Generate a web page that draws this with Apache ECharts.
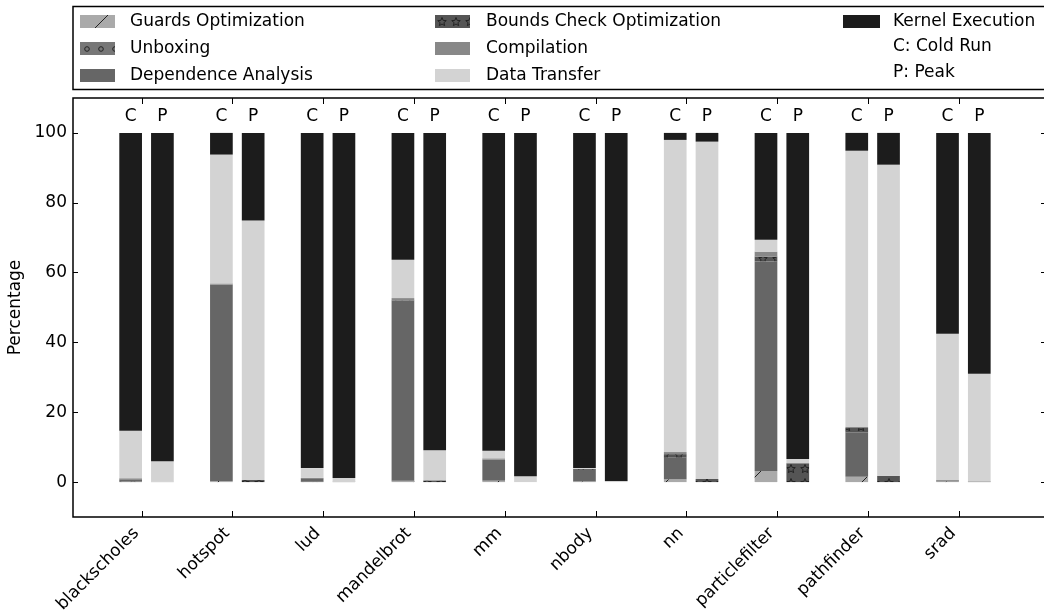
<!DOCTYPE html>
<html>
<head>
<meta charset="utf-8">
<script src="https://cdn.jsdelivr.net/npm/echarts@6/dist/echarts.min.js"></script>
<style>
  html, body { margin: 0; padding: 0; background: #fff; }
  #chart { width: 1044px; height: 615px; }
</style>
</head>
<body>
<div id="chart"></div>
<script>
// Benchmarks and run types
const benchmarks = ['blackscholes', 'hotspot', 'lud', 'mandelbrot', 'mm', 'nbody', 'nn', 'particlefilter', 'pathfinder', 'srad'];
const runLabels = ['C', 'P'];
const components = ['Guards Optimization', 'Unboxing', 'Dependence Analysis', 'Bounds Check Optimization', 'Compilation', 'Data Transfer', 'Kernel Execution'];

// Cold run breakdown (percent of total time)
const coldGuards   = [0, 0.3, 0, 0.4, 0.4, 0.2, 0.8, 3.2, 1.5, 0.2];
const coldUnboxing = [0.2, 0, 0.1, 0, 0, 0, 0, 0, 0, 0];
const coldDepend   = [0.6, 56.3, 1.0, 51.6, 6.0, 3.3, 6.2, 60.0, 12.7, 0.3];
const coldBounds   = [0, 0, 0, 0.1, 0, 0.3, 1.0, 1.4, 1.3, 0];
const coldCompile  = [0.3, 0.3, 0.1, 0.6, 0.4, 0, 0.6, 1.4, 0.3, 0.1];
const coldTransfer = [13.6, 36.9, 2.8, 11.0, 2.2, 0.2, 89.4, 3.4, 79.1, 41.9];
const coldKernel   = [85.3, 6.2, 96.0, 36.3, 91.0, 96.0, 2.0, 30.6, 5.1, 57.5];

// Peak run breakdown (percent of total time)
const peakGuards   = [0, 0, 0, 0, 0, 0, 0, 0, 0, 0];
const peakUnboxing = [0, 0, 0, 0, 0, 0, 0, 0, 0, 0];
const peakDepend   = [0, 0, 0.1, 0, 0, 0, 0, 0, 0, 0.2];
const peakBounds   = [0, 0.6, 0, 0.5, 0, 0, 0.9, 5.4, 1.8, 0];
const peakCompile  = [0.1, 0, 0, 0, 0, 0, 0, 0, 0, 0];
const peakTransfer = [5.9, 74.3, 1.1, 8.6, 1.7, 0.3, 96.6, 1.2, 89.1, 30.8];
const peakKernel   = [94.0, 25.1, 98.8, 90.9, 98.3, 99.7, 2.5, 93.4, 9.1, 69.0];

const yTicks = [0, 20, 40, 60, 80, 100];

const coldParts = [coldGuards, coldUnboxing, coldDepend, coldBounds, coldCompile, coldTransfer, coldKernel];
const peakParts = [peakGuards, peakUnboxing, peakDepend, peakBounds, peakCompile, peakTransfer, peakKernel];

// Bar geometry (in category units)
const BAR_W = 0.25;
const RUN_OFFSET = [-0.125, 0.225];
const FONT = 'DejaVu Sans';

// Fill patterns drawn on small tiles
function tile(size, bg, draw) {
  const c = document.createElement('canvas');
  c.width = size; c.height = size;
  const g = c.getContext('2d');
  g.fillStyle = bg;
  g.fillRect(0, 0, size, size);
  g.strokeStyle = '#222';
  g.lineWidth = 1;
  if (draw) draw(g, size);
  return { image: c, repeat: 'repeat' };
}
const hatchFill = tile(28, '#aaaaaa', (g, s) => {
  g.beginPath(); g.moveTo(0, s); g.lineTo(s, 0); g.stroke();
});
const circleFill = tile(14, '#777777', (g, s) => {
  g.beginPath(); g.arc(s / 2, s / 2, 2.3, 0, Math.PI * 2); g.stroke();
});
const starFill = tile(14, '#555555', (g, s) => {
  g.beginPath();
  for (let k = 0; k < 10; k++) {
    const r = k % 2 === 0 ? 4.5 : 2;
    const ang = -Math.PI / 2 + k * Math.PI / 5;
    const px = s / 2 + r * Math.cos(ang), py = s / 2 + r * Math.sin(ang);
    if (k === 0) g.moveTo(px, py); else g.lineTo(px, py);
  }
  g.closePath(); g.stroke();
});
const fills = [hatchFill, circleFill, '#666666', starFill, '#888888', '#d3d3d3', '#1c1c1c'];

// Build [x, low, high] segments per component from the arrays
function segments(k) {
  const out = [];
  benchmarks.forEach((b, i) => {
    [coldParts, peakParts].forEach((parts, r) => {
      let low = 0;
      for (let j = 0; j < k; j++) low += parts[j][i];
      out.push([i + RUN_OFFSET[r], low, low + parts[k][i]]);
    });
  });
  return out;
}

function renderBar(params, api) {
  const x = api.value(0), lo = api.value(1), hi = api.value(2);
  if (!(hi > lo)) return;
  const a = api.coord([x - BAR_W / 2, lo]);
  const b = api.coord([x + BAR_W / 2, hi]);
  return {
    type: 'rect',
    shape: { x: a[0], y: b[1], width: b[0] - a[0], height: a[1] - b[1] },
    style: { fill: api.visual('color') }
  };
}

const barSeries = components.map((name, k) => ({
  name: name,
  type: 'custom',
  renderItem: renderBar,
  encode: { x: 0, y: [1, 2] },
  itemStyle: { color: fills[k] },
  data: segments(k),
  silent: true
}));

// Run letters above each bar
const LABEL_Y = 104.6;
const runLabelData = [];
benchmarks.forEach((b, i) => runLabels.forEach((t, r) => runLabelData.push([i + RUN_OFFSET[r], LABEL_Y])));
const labelSeries = {
  type: 'custom',
  silent: true,
  data: runLabelData,
  encode: { x: 0, y: 1 },
  renderItem: (params, api) => {
    const p = api.coord([api.value(0), api.value(1)]);
    return {
      type: 'text', x: p[0], y: p[1],
      style: { text: runLabels[params.dataIndex % 2], fontSize: 17, fontFamily: FONT, fill: '#000', align: 'center', verticalAlign: 'middle' }
    };
  }
};

const catTicks = benchmarks.map((b, i) => i);
const tickStyle = { color: '#000', width: 1 };

const legendText = { fontSize: 17, fontFamily: FONT, color: '#000', lineHeight: 16 };
function legendCol(names, left, width, textPad) {
  return {
    data: names.map(n => ({ name: n, icon: 'rect' })),
    orient: 'vertical', left: left, top: 13, padding: 0,
    itemWidth: width, itemHeight: 13, itemGap: 10,
    selectedMode: false,
    textStyle: Object.assign({}, legendText, { padding: [0, 0, 0, textPad] })
  };
}

const chart = echarts.init(document.getElementById('chart'), null, { renderer: 'canvas' });
chart.setOption({
  animation: false,
  backgroundColor: '#fff',
  textStyle: { fontFamily: FONT },
  grid: {
    left: 73, right: -2, top: 98, bottom: 98,
    outerBoundsMode: 'none', containLabel: false,
    show: true, borderColor: '#000', borderWidth: 1.5, backgroundColor: 'transparent'
  },
  legend: [
    legendCol(components.slice(0, 3), 80, 35, 10),
    legendCol(components.slice(3, 6), 435, 35, 11),
    legendCol(components.slice(6), 843, 37, 8)
  ],
  graphic: [
    { type: 'rect', shape: { x: 73, y: 6.5, width: 990, height: 83 }, style: { fill: 'none', stroke: '#000', lineWidth: 1.5 } },
    { type: 'text', x: 893, y: 47, style: { text: 'C: Cold Run', fontSize: 17, fontFamily: FONT, fill: '#000', verticalAlign: 'middle' } },
    { type: 'text', x: 893, y: 73, style: { text: 'P: Peak', fontSize: 17, fontFamily: FONT, fill: '#000', verticalAlign: 'middle' } }
  ],
  xAxis: [
    {
      type: 'value', position: 'bottom', min: -0.76, max: 9.96,
      axisLine: { show: false, onZero: false }, splitLine: { show: false },
      axisTick: { show: true, inside: true, length: 6, customValues: catTicks, lineStyle: tickStyle },
      axisLabel: {
        customValues: catTicks, formatter: v => benchmarks[Math.round(v)],
        rotate: 45, margin: 8, padding: [0, 8, 0, 0],
        fontSize: 17, fontFamily: FONT, color: '#000'
      }
    },
    {
      type: 'value', position: 'top', min: -0.76, max: 9.96,
      axisLine: { show: false, onZero: false }, splitLine: { show: false },
      axisTick: { show: true, inside: true, length: 6, customValues: catTicks, lineStyle: tickStyle },
      axisLabel: { show: false }
    }
  ],
  yAxis: [
    {
      type: 'value', position: 'left', min: -10, max: 110,
      name: 'Percentage', nameLocation: 'middle', nameGap: 43,
      nameTextStyle: { fontSize: 17, fontFamily: FONT, color: '#000' },
      axisLine: { show: false, onZero: false }, splitLine: { show: false },
      axisTick: { show: true, inside: true, length: 5, customValues: yTicks, lineStyle: tickStyle },
      axisLabel: { customValues: yTicks, margin: 6, fontSize: 17, fontFamily: FONT, color: '#000' }
    },
    {
      type: 'value', position: 'right', min: -10, max: 110,
      axisLine: { show: false, onZero: false }, splitLine: { show: false },
      axisTick: { show: true, inside: true, length: 5, customValues: yTicks, lineStyle: tickStyle },
      axisLabel: { show: false }
    }
  ],
  series: barSeries.concat([labelSeries])
});
</script>
</body>
</html>
